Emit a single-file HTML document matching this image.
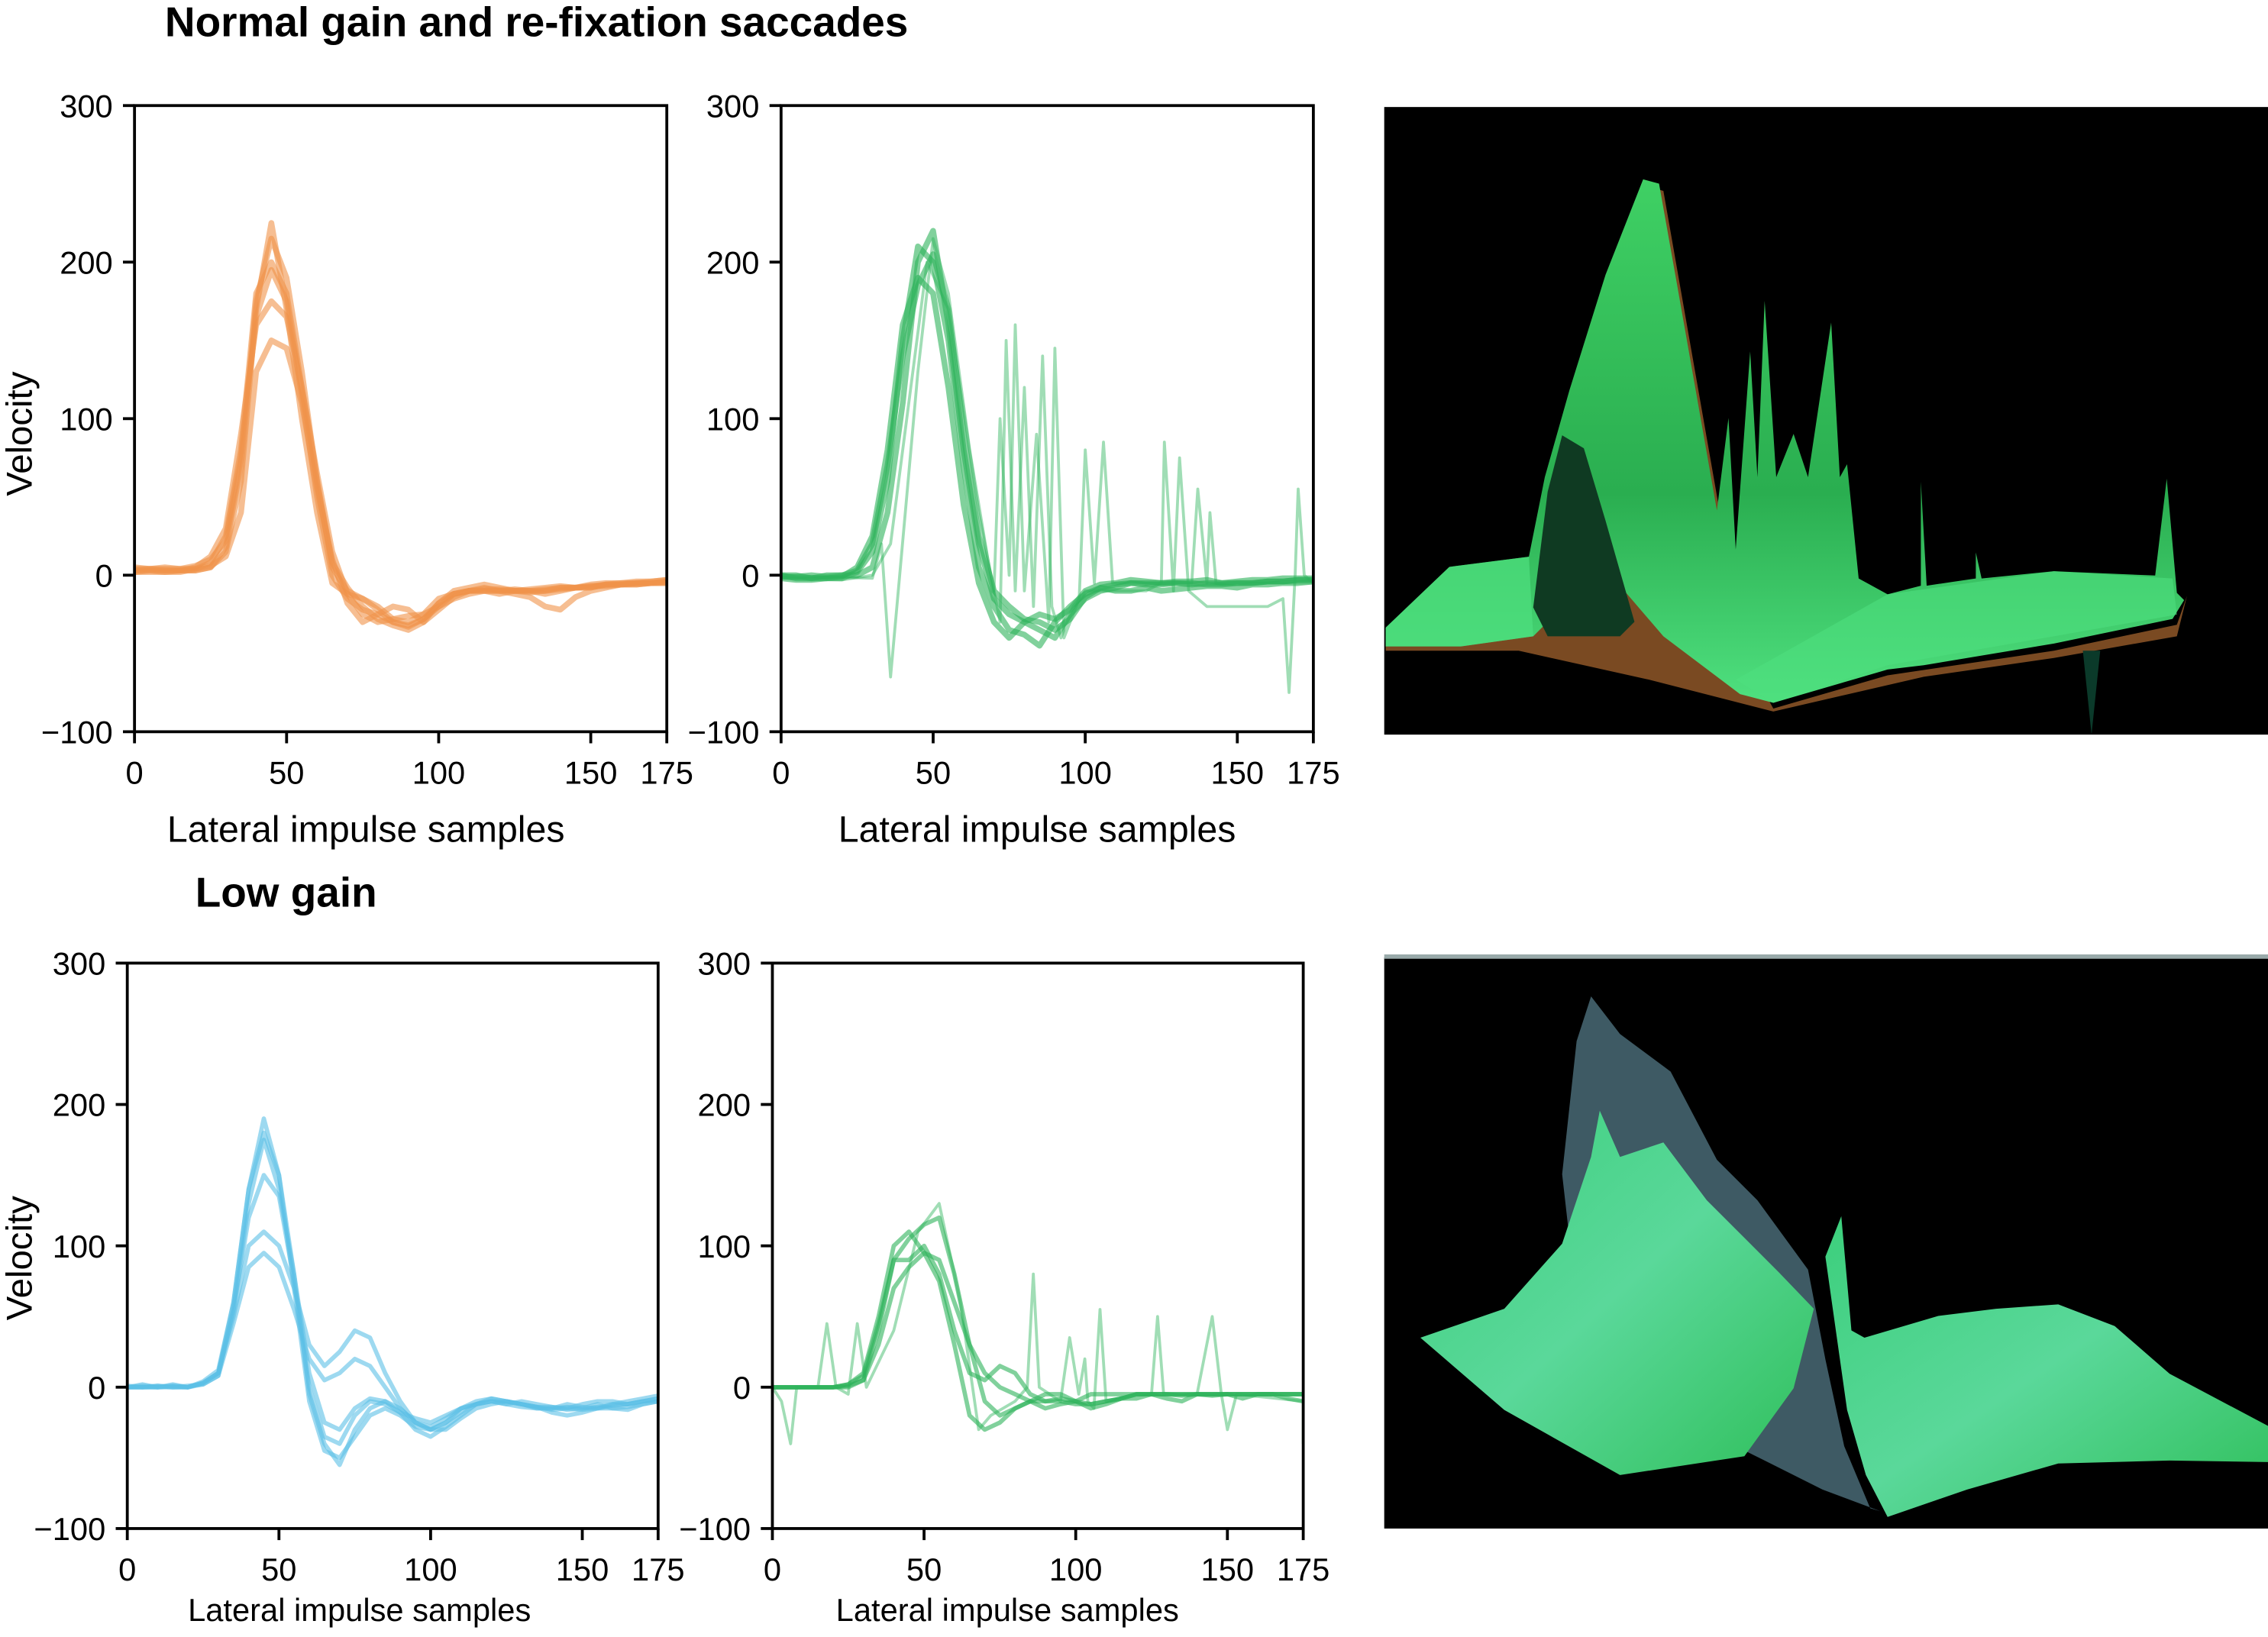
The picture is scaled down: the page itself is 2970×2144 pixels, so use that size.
<!DOCTYPE html>
<html><head><meta charset="utf-8">
<style>
html,body{margin:0;padding:0;background:#fff;}
svg{display:block;}
text{font-family:"Liberation Sans",Arial,sans-serif;fill:#000;}
</style></head>
<body>
<svg id="fig" xmlns="http://www.w3.org/2000/svg" width="2970" height="2144" viewBox="0 0 1568 1132" preserveAspectRatio="none">
<defs>
<linearGradient id="gtop" x1="0" y1="0" x2="0" y2="1">
<stop offset="0" stop-color="#3fd064"/><stop offset="0.6" stop-color="#2aae50"/><stop offset="1" stop-color="#4fe07f"/>
</linearGradient>
<linearGradient id="gbot" x1="0" y1="0" x2="1" y2="1">
<stop offset="0" stop-color="#3ccf7c"/><stop offset="0.5" stop-color="#5ad89a"/><stop offset="1" stop-color="#2fbf5a"/>
</linearGradient>
</defs>
<text x="114" y="25" font-size="29" font-weight="bold">Normal gain and re-fixation saccades</text>
<text x="135" y="627" font-size="29" font-weight="bold">Low gain</text>

<g>
<rect x="957" y="74" width="611" height="434" fill="#000"/>
<polygon fill="#7a4a22" points="958,440 1002,396 1060,392 1090,300 1136,128 1150,132 1190,360 1215,470 1226,490 1305,467 1420,450 1505,432 1512,412 1505,440 1420,455 1330,468 1226,492 1140,470 1050,450 958,450"/>
<polygon fill="url(#gtop)" points="958,434 1002,392 1057,385 1068,330 1085,270 1110,190 1136,124 1147,127 1160,200 1187,353 1195,289 1200,380 1210,243 1215,330 1220,208 1228,330 1240,300 1250,330 1266,223 1272,330 1277,321 1285,400 1305,411 1328,405 1328,333 1332,405 1366,400 1366,382 1370,400 1420,395 1490,398 1498,331 1505,410 1510,415 1502,428 1420,445 1330,460 1305,463 1226,486 1203,480 1150,440 1120,405 1090,410 1060,440 1010,447 958,447"/>
<polygon fill="#0f3a22" points="1080,301 1095,310 1110,360 1130,430 1120,440 1070,440 1060,420 1070,340"/>
<polygon fill="#4fe07f" opacity="0.7" points="958,434 1002,392 1057,385 1060,440 1010,447 958,447"/>
<polygon fill="#4fe07f" opacity="0.6" points="1200,470 1305,411 1420,395 1502,400 1505,425 1420,440 1305,460 1226,486"/>
<polygon fill="#0b3a2a" points="1440,450 1446,508 1452,450"/>
</g>

<g>
<rect x="957" y="662" width="611" height="395" fill="#000"/>
<rect x="957" y="660" width="611" height="3" fill="#9aa"/>
<polygon fill="#3e5a64" points="1080,812 1090,720 1100,689 1120,715 1155,741 1187,802 1215,830 1250,878 1262,940 1275,1000 1293,1043 1300,1045 1260,1030 1220,1010 1160,980 1090,900"/>
<polygon fill="url(#gbot)" points="982,925 1040,905 1080,860 1100,800 1106,768 1120,800 1150,790 1180,830 1200,850 1230,880 1254,905 1240,960 1206,1007 1120,1020 1040,975"/>
<polygon fill="url(#gbot)" points="1262,869 1273,841 1280,920 1289,925 1340,910 1380,905 1423,902 1462,917 1500,950 1568,986 1568,1011 1500,1010 1423,1012 1360,1030 1305,1049 1290,1020 1277,975"/>
</g>
<g id="charts"></g>
</svg>
<script>
// ---- Data arrays (sample index step 5, 0..175) ----
const sampleStep = 5;
const xTicks = [0, 50, 100, 150, 175];
const yTicks = [-100, 0, 100, 200, 300];

const orangeTraces = [
 [3,3,3,3,3,5,15,60,170,225,170,100,40,-5,-12,-15,-20,-28,-30,-25,-15,-12,-10,-10,-12,-10,-10,-10,-8,-8,-8,-6,-6,-5,-5,-4],
 [2,2,2,2,4,8,25,80,180,200,180,120,60,5,-10,-15,-22,-30,-32,-28,-18,-12,-10,-10,-10,-9,-10,-12,-10,-8,-8,-6,-5,-5,-4,-3],
 [4,4,4,4,4,6,12,40,130,150,145,110,55,10,-18,-30,-25,-20,-22,-30,-22,-14,-10,-8,-10,-12,-14,-20,-22,-14,-10,-8,-6,-6,-5,-5],
 [2,3,2,3,3,5,18,70,175,215,190,130,60,8,-8,-20,-28,-32,-35,-30,-18,-10,-8,-6,-8,-10,-9,-8,-7,-8,-6,-5,-5,-4,-4,-3],
 [3,4,3,3,5,12,30,90,160,175,165,120,65,15,-12,-25,-30,-28,-26,-25,-20,-15,-12,-10,-10,-10,-10,-9,-8,-8,-7,-7,-6,-6,-5,-5],
 [5,4,5,4,6,10,22,75,165,195,175,115,50,0,-15,-22,-25,-30,-33,-28,-20,-12,-10,-9,-9,-10,-11,-10,-9,-8,-7,-6,-6,-5,-5,-4]
];
const greenTopTraces = [
 [0,0,-2,0,0,0,5,40,110,200,220,160,80,20,-15,-25,-30,-35,-40,-25,-15,-10,-8,-5,-5,-5,-5,-6,-5,-5,-5,-5,-4,-4,-3,-3],
 [-2,-3,-3,-2,-2,2,15,60,150,210,200,150,70,5,-20,-35,-38,-45,-30,-20,-12,-8,-10,-10,-8,-10,-9,-8,-7,-7,-8,-6,-6,-5,-5,-4],
 [0,-2,-2,-2,-1,5,25,80,160,190,180,120,45,-5,-30,-40,-30,-25,-28,-22,-10,-6,-5,-3,-4,-5,-4,-4,-3,-5,-4,-3,-3,-2,-2,-2],
 [-1,-1,0,-1,0,3,20,70,140,185,205,170,90,25,-10,-20,-28,-30,-35,-28,-14,-8,-6,-5,-6,-6,-5,-5,-6,-6,-5,-5,-4,-4,-3,-3]
];
const greenTopSaccades = [
 [[0,0],[30,-2],[33,20],[36,-65],[39,0],[45,130],[50,215],[55,180],[62,80],[68,10],[72,-30],[74,150],[77,-10],[80,120],[83,-20],[86,140],[89,-20],[92,-40],[96,-20],[100,-10],[110,-10],[120,-10],[125,-5],[126,85],[129,-10],[131,75],[134,-10],[140,-20],[150,-20],[160,-20],[165,-15],[167,-75],[169,0],[170,55],[172,0],[175,-5]],
 [[0,-2],[20,-3],[30,0],[36,20],[40,80],[48,200],[55,170],[65,40],[70,-10],[72,100],[75,0],[77,160],[80,-10],[84,90],[88,-30],[90,145],[93,-40],[98,-15],[100,80],[103,-5],[106,85],[109,-5],[115,-5],[135,-5],[137,55],[140,-5],[141,40],[143,-5],[175,-5]]
];
const blueTraces = [
 [0,2,0,1,0,3,10,60,140,190,150,70,-10,-45,-50,-35,-20,-15,-20,-28,-30,-25,-18,-12,-10,-12,-14,-15,-15,-14,-15,-14,-12,-12,-10,-8],
 [0,0,1,0,0,2,8,55,130,175,140,80,10,-25,-30,-15,-8,-10,-15,-25,-30,-30,-22,-15,-12,-10,-12,-14,-16,-15,-16,-15,-13,-12,-10,-10],
 [1,0,0,2,0,3,10,50,100,110,100,70,30,15,25,40,35,10,-10,-25,-30,-25,-15,-10,-8,-10,-12,-14,-18,-20,-18,-15,-15,-16,-12,-10],
 [0,0,1,0,1,2,8,45,85,95,85,55,20,5,10,20,15,0,-15,-25,-28,-22,-15,-12,-10,-10,-12,-15,-15,-12,-14,-15,-12,-10,-8,-6],
 [0,1,0,0,0,3,10,55,120,150,135,75,0,-35,-40,-20,-10,-12,-18,-22,-25,-20,-15,-12,-10,-12,-10,-12,-14,-15,-12,-10,-10,-12,-10,-8],
 [0,0,0,1,0,4,12,60,140,180,150,80,-5,-40,-55,-30,-15,-10,-18,-30,-35,-28,-20,-12,-8,-10,-12,-14,-14,-16,-15,-12,-15,-14,-12,-10]
];
const greenBotTraces = [
 [0,0,0,0,0,0,5,40,90,105,115,120,80,30,-10,-20,-15,-10,-5,-5,-10,-12,-10,-8,-5,-5,-8,-10,-5,-5,-5,-8,-5,-5,-8,-10],
 [0,0,0,0,0,2,10,50,100,110,95,75,30,-20,-30,-25,-15,-10,-10,-8,-10,-15,-12,-8,-5,-5,-5,-5,-5,-5,-5,-5,-5,-5,-5,-5],
 [0,0,0,0,0,2,8,45,90,90,100,80,40,10,5,15,10,-5,-10,-10,-12,-12,-10,-8,-8,-5,-5,-6,-5,-6,-5,-5,-5,-5,-5,-5],
 [0,0,0,0,0,1,5,30,70,85,95,90,60,30,10,0,-5,-10,-15,-12,-10,-5,-5,-5,-5,-5,-5,-5,-5,-5,-5,-5,-5,-5,-5,-5]
];
const greenBotSaccades = [
 [[0,0],[3,-10],[6,-40],[8,0],[15,0],[18,45],[21,0],[25,-5],[28,45],[31,0],[40,40],[48,110],[55,130],[62,60],[68,-30],[72,-20],[80,-10],[84,0],[86,80],[88,0],[95,-10],[98,35],[101,-5],[103,20],[104,-10],[106,-15],[108,55],[110,-10],[120,-5],[125,-5],[127,50],[129,-5],[140,-5],[145,50],[148,-5],[150,-30],[153,-5],[175,-10],[175,-40]]
];

const NS = "http://www.w3.org/2000/svg";
const root = document.getElementById("charts");
function mk(tag, attrs, parent){ const e=document.createElementNS(NS,tag); for(const k in attrs) e.setAttribute(k,attrs[k]); (parent||root).appendChild(e); return e; }

function drawChart(cfg){
  const g = mk("g", {});
  
  
  const xs = v => cfg.x0 + v/175*(cfg.x1-cfg.x0);
  const ys = v => cfg.yb - (v+100)/400*(cfg.yb-cfg.yt);
  const lines = mk("g", {}, g);
  
  
  cfg.traces.forEach((t) => {
    const pts = t.map((v,i)=> xs(i*sampleStep).toFixed(1)+","+ys(v).toFixed(1)).join(" ");
    const p = mk("polyline", {points:pts, fill:"none", stroke:cfg.color, "stroke-width":cfg.sw, "stroke-opacity":0.6, "stroke-linejoin":"round"}, lines);
    
    
  });
  (cfg.saccades||[]).forEach((t) => {
    const pts = t.map(pr=> xs(pr[0]).toFixed(1)+","+ys(pr[1]).toFixed(1)).join(" ");
    const p = mk("polyline", {points:pts, fill:"none", stroke:cfg.color, "stroke-width":2, "stroke-opacity":0.45, "stroke-linejoin":"round"}, lines);
    
    
  });
  const frame = mk("rect", {x:cfg.x0, y:cfg.yt, width:cfg.x1-cfg.x0, height:cfg.yb-cfg.yt, fill:"none", stroke:"#000", "stroke-width":2}, g);
  
  
  yTicks.forEach(v => {
    const y = ys(v);
    mk("line", {x1:cfg.x0-8, x2:cfg.x0, y1:y, y2:y, stroke:"#000", "stroke-width":2}, g);
    const t = mk("text", {x:cfg.x0-15, y:y+8, "font-size":22, "text-anchor":"end"}, g);
    t.textContent = v<0 ? "\u2212"+Math.abs(v) : String(v);
    
    
  });
  xTicks.forEach(v => {
    const x = xs(v);
    mk("line", {x1:x, x2:x, y1:cfg.yb, y2:cfg.yb+8, stroke:"#000", "stroke-width":2}, g);
    const t = mk("text", {x:x, y:cfg.yb+36, "font-size":22, "text-anchor":"middle"}, g);
    t.textContent = String(v);
    
    
  });
  const xl = mk("text", {x:(cfg.x0+cfg.x1)/2 - cfg.xlShift, y:cfg.xlY, "font-size":cfg.xlSize, "text-anchor":"middle"}, g);
  xl.textContent = "Lateral impulse samples";
  
  
  if(cfg.velY){
    const vl = mk("text", {x:0, y:0, "font-size":25, "text-anchor":"middle", transform:"translate(22,"+cfg.velY+") rotate(-90)"}, g);
    vl.textContent = "Velocity";
    
    
  }
}

drawChart({name:"chart-normal-gain-orange", x0:93, x1:461, yt:73, yb:506, color:"#f0924a", sw:4, traces:orangeTraces, xlY:582, xlSize:25.5, xlShift:24, velY:300});
drawChart({name:"chart-normal-gain-saccades", x0:540, x1:908, yt:73, yb:506, color:"#2db35a", sw:4, traces:greenTopTraces, saccades:greenTopSaccades, xlY:582, xlSize:25.5, xlShift:7});
drawChart({name:"chart-low-gain-blue", x0:88, x1:455, yt:666, yb:1057, color:"#5bc0e6", sw:3, traces:blueTraces, xlY:1121, xlSize:22, xlShift:23, velY:870});
drawChart({name:"chart-low-gain-saccades", x0:534, x1:901, yt:666, yb:1057, color:"#2db35a", sw:3, traces:greenBotTraces, saccades:greenBotSaccades, xlY:1121, xlSize:22, xlShift:21});
</script>
</body></html>
